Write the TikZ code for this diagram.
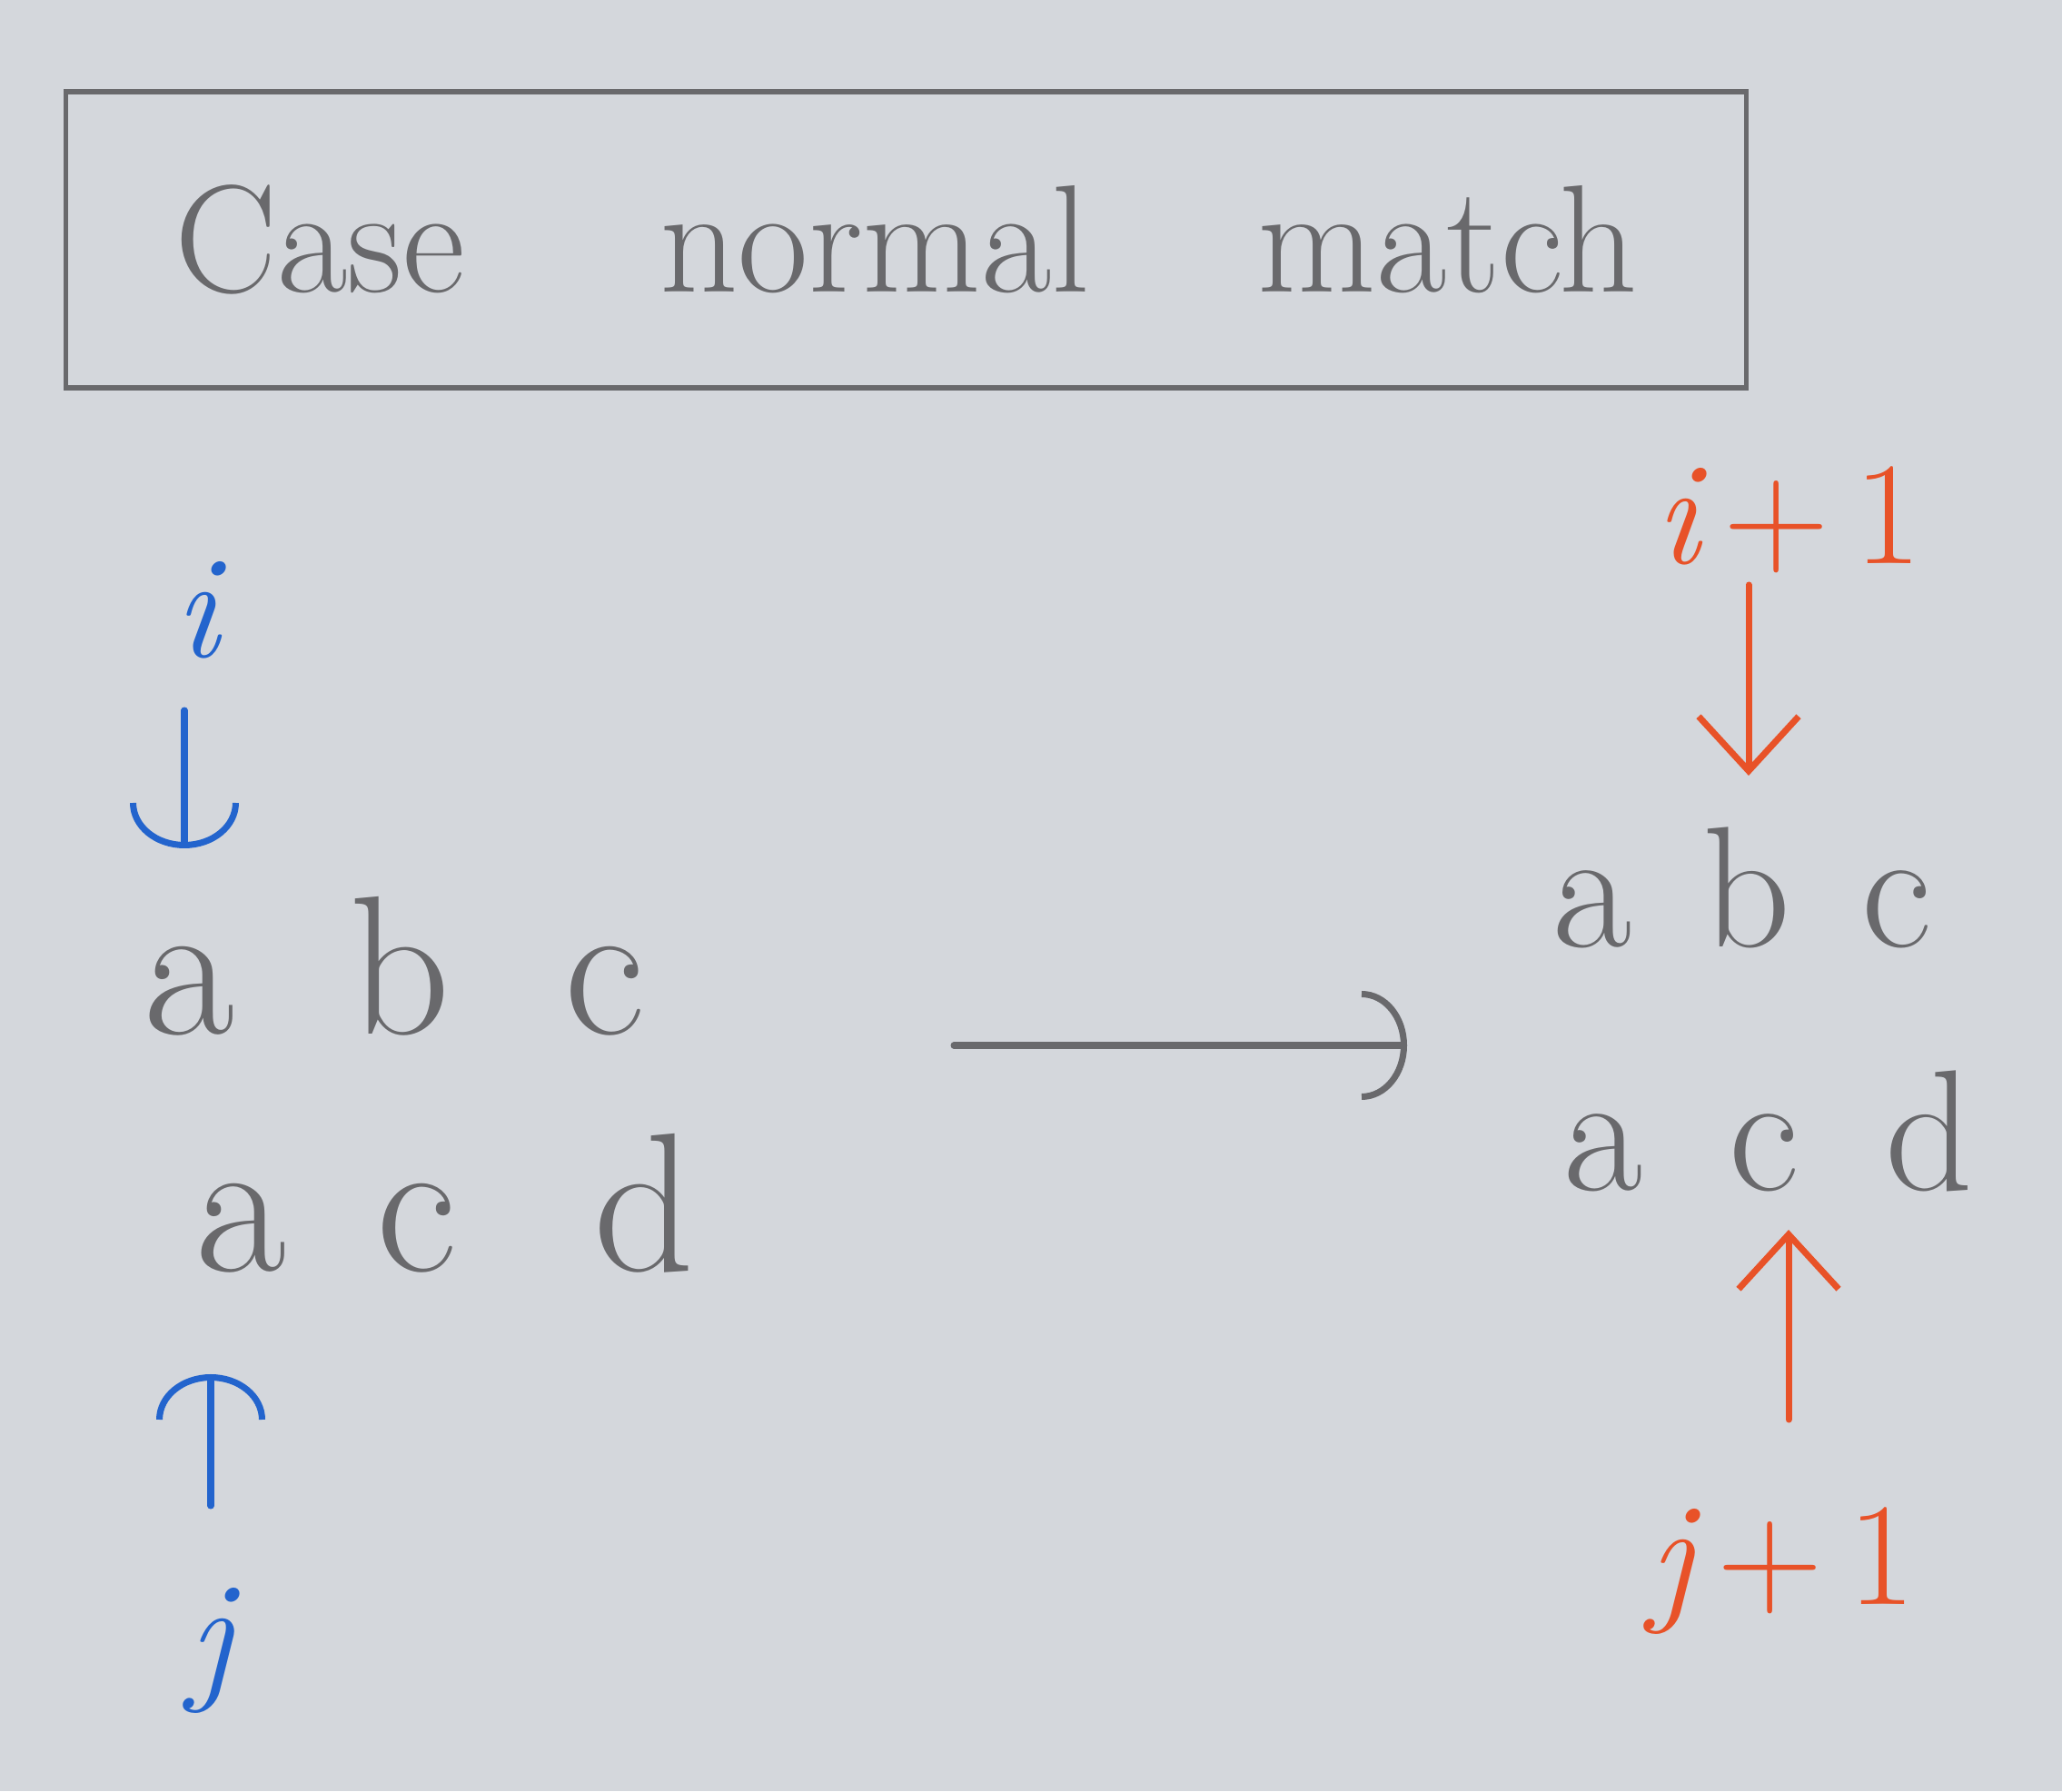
\documentclass[tikz,border=0pt]{standalone}
\usepackage{xcolor}
\usepackage{tikz}
\usetikzlibrary{positioning, arrows.meta}
\definecolor{paper}{RGB}{212, 215, 220}
\definecolor{pencil}{RGB}{105, 105, 108}
\definecolor{pen_blue}{RGB}{35, 100, 205}
\definecolor{pen_red}{RGB}{232, 82, 40}

\begin{document}
\begin{tikzpicture}[line cap=round,
      title/.style={draw=pencil, line width=1.6pt, minimum width=18.5cm, minimum height=3.26cm,
        text=pencil, font=\fontsize{48}{56}\selectfont},
      word/.style={text=pencil, inner sep=0pt, font=\fontsize{62}{70}\selectfont},
      wordr/.style={text=pencil, inner sep=0pt, font=\fontsize{54}{62}\selectfont},
      idx/.style={inner sep=0pt, font=\fontsize{46}{54}\selectfont},
      blue/.style={draw=pen_blue, line width=2pt, -{Arc Barb[length=5mm, width=12mm, line width=2pt]}},
      red/.style={draw=pen_red, line width=2pt, -{Straight Barb[length=6mm, width=11mm, line width=2pt]}},
      gray/.style={draw=pencil, line width=2pt, -{Arc Barb[length=5mm, width=12mm, line width=2pt]}}]
    \fill[paper] (0,0) rectangle (22.70,19.72);
    \useasboundingbox (0,0) rectangle (22.70,19.72);
    % heading
    \node[title] (box) at (9.975,17.08) {Case\hspace{2.15cm}normal\hspace{1.85cm}match};
    % before
    \node[idx, text=pen_blue] (i) at (2.17,13.0) {\itshape i};
    \node[word] (s1) at (4.34,9.08) {a\hspace{1.26cm}b\hspace{1.26cm}c};
    \node[word] (t1) at (4.9,6.47) {a\hspace{1.0cm}c\hspace{1.5cm}d};
    \node[idx, text=pen_blue] (j) at (2.32,1.55) {\itshape j};
    \coordinate (itip) at (2.03,10.38);
    \coordinate (jtip) at (2.32,4.59);
    \draw[blue] (2.03,11.9) -- (itip);
    \draw[blue] (2.32,3.14) -- (jtip);
    % step
    \coordinate (m1) at (10.50,8.21);
    \coordinate (m2) at (15.49,8.21);
    \draw[gray] (m1) -- (m2);
    % after
    \node[idx, text=pen_red] (i1) at (19.69,14.0) {{\itshape i}\,+\,1};
    \node[wordr] (s2) at (19.18,9.95) {a\hspace{0.78cm}b\hspace{0.78cm}c};
    \node[wordr] (t2) at (19.47,7.27) {a\hspace{0.95cm}c\hspace{0.95cm}d};
    \node[idx, text=pen_red] (j1) at (19.62,2.42) {{\itshape j}\,+\,1};
    \coordinate (i1tip) at (19.25,11.18);
    \coordinate (j1tip) at (19.69,6.18);
    \draw[red] (19.25,13.28) -- (i1tip);
    \draw[red] (19.69,4.09) -- (j1tip);
  \end{tikzpicture}
\end{document}
